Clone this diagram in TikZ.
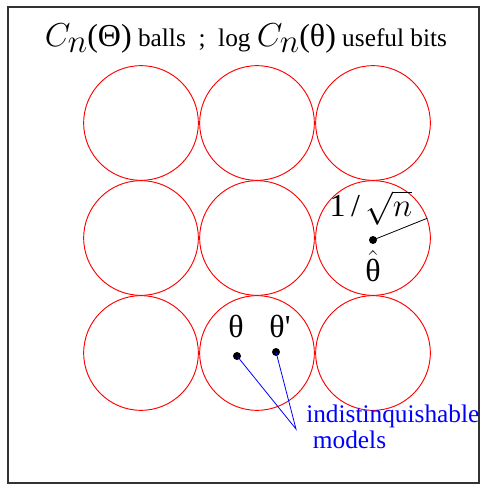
\documentclass[tikz,border=0pt]{standalone}
\usepackage{fontspec}
\setmainfont{Liberation Serif}
\usetikzlibrary{arrows.meta}
\newcommand\bigtxt{\fontsize{24}{28}\selectfont}
\newcommand\smalltxt{\fontsize{19}{19}\selectfont}

\begin{document}
\begin{tikzpicture}[x=0.75pt,y=-0.75pt]
\useasboundingbox (0,0) rectangle (481,488);
\draw[line width=0.8pt,black!80] (8,7) rectangle (479,483);
\node (title) at (246,39) {\bigtxt$C$\kern-2pt\lower4.5pt\hbox{$n$}(Θ)\smalltxt{} balls\ \ ;\ \ log \bigtxt$C$\kern-2pt\lower4.5pt\hbox{$n$}(θ)\smalltxt{} useful bits};
\begin{scope}[every node/.style={circle,draw=red,line width=0.7pt,minimum size=86pt,inner sep=0pt}]
\foreach \r/\y in {1/123,2/238,3/353}
  \foreach \c/\x in {1/141,2/257,3/373}
    \node (b\r\c) at (\x,\y) {};
\end{scope}
\begin{scope}[every node/.style={circle,fill=black,minimum size=6pt,inner sep=0pt}]
\node (thetahat) at (373,240) {};
\node (theta) at (237,356) {};
\node (thetap) at (276,352) {};
\end{scope}
\draw[line width=0.6pt] (thetahat.center) -- (b23.20);
\node (radius) at (371,208) {\bigtxt 1\,/\,$\sqrt{n}$};
\node[inner sep=0pt] (hatlabel) at (373,266) {\bigtxt$\hat{\hbox{θ}}$};
\node (thetalabel) at (236,326) {\bigtxt θ};
\node (thetaplabel) at (280,326) {\bigtxt θ\textquotesingle};
\coordinate (tip) at (296,429);
\draw[blue,line width=0.6pt] (theta.center) -- (tip) -- (thetap.center);
\node[blue,anchor=base west,align=left,inner sep=0pt,font=\smalltxt] (models) at (306,448)
  {indistinquishable\\\hspace{5pt}models};
\end{tikzpicture}
\end{document}
